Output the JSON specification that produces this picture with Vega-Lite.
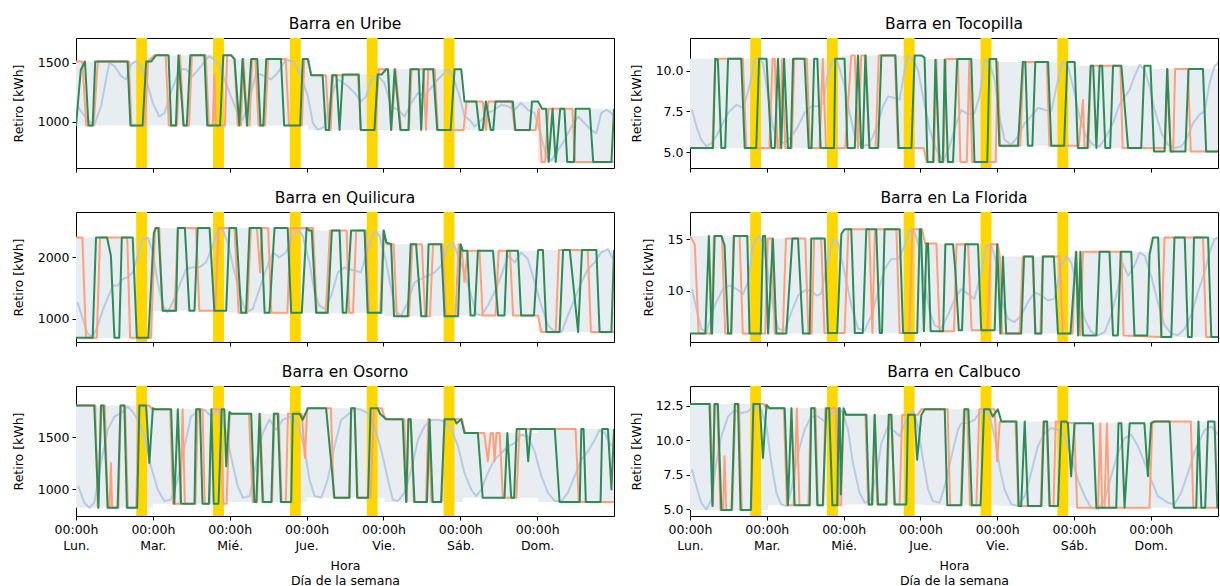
{
  "$schema": "https://vega.github.io/schema/vega-lite/v6.json",
  "background": "white",
  "padding": {"left": 11, "top": 16, "right": 0, "bottom": 0},
  "columns": 2,
  "spacing": {"row": 17, "column": 14},
  "config": {
    "font": "DejaVu Sans",
    "view": {"stroke": "#000", "strokeWidth": 1},
    "axis": {
      "labelFont": "DejaVu Sans", "labelFontSize": 12.5, "labelColor": "#000",
      "titleFont": "DejaVu Sans", "titleFontSize": 12.5, "titleFontWeight": "normal", "titleColor": "#000",
      "tickColor": "#000", "tickSize": 4, "labelPadding": 3, "titlePadding": 12,
      "domain": false, "grid": false
    },
    "axisX": {"labelFlush": false},
    "title": {"font": "DejaVu Sans", "fontSize": 15.5, "fontWeight": "normal", "color": "#000", "offset": 6}
  },
  "datasets": {
    "Y": [
      {"a": 18.8, "b": 22.2}, {"a": 42.8, "b": 46.2}, {"a": 66.8, "b": 70.2}, {"a": 90.8, "b": 94.2}, {"a": 114.8, "b": 118.2}
    ],
    "B": [
      {"p":"U","h":0,"lo":966,"hi":1510},{"p":"U","h":22.5,"lo":966,"hi":1563},{"p":"U","h":47,"lo":966,"hi":1530},{"p":"U","h":72.4,"lo":929,"hi":1400},{"p":"U","h":94,"lo":929,"hi":1443},{"p":"U","h":120.3,"lo":929,"hi":1171},{"p":"U","h":144.3,"lo":657,"hi":1109},{"p":"U","h":168,"lo":657,"hi":1109},
      {"p":"Q","h":0,"lo":692,"hi":2324},{"p":"Q","h":24,"lo":1130,"hi":2481},{"p":"Q","h":47.5,"lo":1097,"hi":2481},{"p":"Q","h":72,"lo":1097,"hi":2438},{"p":"Q","h":96.3,"lo":1043,"hi":2216},{"p":"Q","h":120,"lo":1054,"hi":2108},{"p":"Q","h":144.3,"lo":784,"hi":2119},{"p":"Q","h":168,"lo":784,"hi":2119},
      {"p":"O","h":0,"lo":826,"hi":1801},{"p":"O","h":24,"lo":864,"hi":1766},{"p":"O","h":47.5,"lo":880,"hi":1722},{"p":"O","h":72,"lo":921,"hi":1775},{"p":"O","h":96.3,"lo":880,"hi":1671},{"p":"O","h":120.8,"lo":921,"hi":1538},{"p":"O","h":144.3,"lo":880,"hi":1576},{"p":"O","h":168,"lo":880,"hi":1576},
      {"p":"T","h":0,"lo":5.25,"hi":10.74},{"p":"T","h":47.5,"lo":5.25,"hi":10.94},{"p":"T","h":73.3,"lo":4.39,"hi":10.72},{"p":"T","h":96.2,"lo":5.39,"hi":10.53},{"p":"T","h":121,"lo":5.25,"hi":10.31},{"p":"T","h":143.9,"lo":5.04,"hi":10.1},{"p":"T","h":168,"lo":5.04,"hi":10.1},
      {"p":"F","h":0,"lo":5.87,"hi":15.32},{"p":"F","h":23.6,"lo":5.87,"hi":15.06},{"p":"F","h":47.3,"lo":5.93,"hi":15.96},{"p":"F","h":72.5,"lo":6.1,"hi":14.55},{"p":"F","h":96.2,"lo":5.87,"hi":13.33},{"p":"F","h":120.7,"lo":5.7,"hi":13.78},{"p":"F","h":143.6,"lo":5.55,"hi":15.16},{"p":"F","h":168,"lo":5.55,"hi":15.16},
      {"p":"C","h":0,"lo":4.94,"hi":12.62},{"p":"C","h":24.4,"lo":5.28,"hi":12.31},{"p":"C","h":48.3,"lo":5.35,"hi":11.83},{"p":"C","h":72.8,"lo":5.28,"hi":12.24},{"p":"C","h":96.2,"lo":5.23,"hi":11.35},{"p":"C","h":119.1,"lo":5.11,"hi":11.23},{"p":"C","h":143.1,"lo":5.11,"hi":11.35},{"p":"C","h":168,"lo":5.11,"hi":11.35}
    ],
    "L": [
      {"k":"Ub","h":0.5,"v":1130},{"k":"Ub","h":1.6,"v":1086},{"k":"Ub","h":3.7,"v":1010},{"k":"Ub","h":5.7,"v":971},{"k":"Ub","h":7.8,"v":1130},{"k":"Ub","h":10.4,"v":1500},{"k":"Ub","h":12,"v":1471},{"k":"Ub","h":14.1,"v":1386},{"k":"Ub","h":15.6,"v":1357},{"k":"Ub","h":17.2,"v":1486},{"k":"Ub","h":18.75,"v":1514},{"k":"Ub","h":20.3,"v":1471},{"k":"Ub","h":21.9,"v":1357},{"k":"Ub","h":24,"v":1157},{"k":"Ub","h":26,"v":1043},{"k":"Ub","h":27.6,"v":1071},{"k":"Ub","h":29.7,"v":1250},{"k":"Ub","h":32.3,"v":1443},{"k":"Ub","h":34.4,"v":1443},{"k":"Ub","h":36.5,"v":1386},{"k":"Ub","h":39,"v":1471},{"k":"Ub","h":41.7,"v":1557},{"k":"Ub","h":44.3,"v":1500},{"k":"Ub","h":46.4,"v":1357},{"k":"Ub","h":48.4,"v":1214},{"k":"Ub","h":50.5,"v":1071},{"k":"Ub","h":52.1,"v":1014},{"k":"Ub","h":54.2,"v":1186},{"k":"Ub","h":56.25,"v":1414},{"k":"Ub","h":58.9,"v":1386},{"k":"Ub","h":60.9,"v":1357},{"k":"Ub","h":63,"v":1414},{"k":"Ub","h":65.6,"v":1529},{"k":"Ub","h":68.2,"v":1500},{"k":"Ub","h":70.3,"v":1386},{"k":"Ub","h":72.4,"v":1214},{"k":"Ub","h":74,"v":986},{"k":"Ub","h":75.5,"v":929},{"k":"Ub","h":77.6,"v":957},{"k":"Ub","h":79.7,"v":1214},{"k":"Ub","h":81.8,"v":1357},{"k":"Ub","h":84.9,"v":1300},{"k":"Ub","h":87,"v":1243},{"k":"Ub","h":89,"v":1171},{"k":"Ub","h":90.6,"v":1214},{"k":"Ub","h":92.2,"v":1357},{"k":"Ub","h":94.3,"v":1386},{"k":"Ub","h":96.3,"v":1329},{"k":"Ub","h":98.4,"v":1129},{"k":"Ub","h":100.5,"v":1100},{"k":"Ub","h":102.6,"v":1043},{"k":"Ub","h":104.7,"v":1157},{"k":"Ub","h":106.8,"v":1243},{"k":"Ub","h":108.8,"v":1214},{"k":"Ub","h":110.4,"v":1271},{"k":"Ub","h":113,"v":1357},{"k":"Ub","h":115.1,"v":1414},{"k":"Ub","h":116.1,"v":1443},{"k":"Ub","h":117.7,"v":1386},{"k":"Ub","h":119.8,"v":1214},{"k":"Ub","h":121.3,"v":1043},{"k":"Ub","h":122.9,"v":1014},{"k":"Ub","h":124.5,"v":957},{"k":"Ub","h":126.6,"v":1014},{"k":"Ub","h":128.6,"v":1071},{"k":"Ub","h":130.7,"v":1100},{"k":"Ub","h":132.8,"v":1143},{"k":"Ub","h":134.9,"v":1129},{"k":"Ub","h":137,"v":1100},{"k":"Ub","h":139,"v":1157},{"k":"Ub","h":141.1,"v":1100},{"k":"Ub","h":143.2,"v":1071},{"k":"Ub","h":145.3,"v":871},{"k":"Ub","h":146.9,"v":700},{"k":"Ub","h":148.4,"v":671},{"k":"Ub","h":150.5,"v":757},{"k":"Ub","h":152.6,"v":843},{"k":"Ub","h":154.7,"v":957},{"k":"Ub","h":156.8,"v":1043},{"k":"Ub","h":158.8,"v":986},{"k":"Ub","h":160.9,"v":929},{"k":"Ub","h":162.5,"v":900},{"k":"Ub","h":164,"v":1071},{"k":"Ub","h":165.6,"v":1100},{"k":"Ub","h":167.2,"v":1071},{"k":"Ub","h":168,"v":1043},
      {"k":"Uo","h":0,"v":1510},{"k":"Uo","h":2,"v":1510},{"k":"Uo","h":3.2,"v":966},{"k":"Uo","h":5.5,"v":966},{"k":"Uo","h":6.8,"v":1510},{"k":"Uo","h":16.5,"v":1510},{"k":"Uo","h":17.3,"v":966},{"k":"Uo","h":21.5,"v":966},{"k":"Uo","h":22.5,"v":1510},{"k":"Uo","h":24.5,"v":1563},{"k":"Uo","h":28,"v":1563},{"k":"Uo","h":29,"v":966},{"k":"Uo","h":31.5,"v":966},{"k":"Uo","h":32.5,"v":1563},{"k":"Uo","h":33.6,"v":966},{"k":"Uo","h":35.3,"v":966},{"k":"Uo","h":36.2,"v":1563},{"k":"Uo","h":40.5,"v":1563},{"k":"Uo","h":41.5,"v":966},{"k":"Uo","h":42.7,"v":966},{"k":"Uo","h":43.2,"v":1400},{"k":"Uo","h":43.7,"v":966},{"k":"Uo","h":46.5,"v":966},{"k":"Uo","h":47.2,"v":1563},{"k":"Uo","h":48.5,"v":1563},{"k":"Uo","h":49.5,"v":1530},{"k":"Uo","h":50.5,"v":966},{"k":"Uo","h":51.5,"v":966},{"k":"Uo","h":52.3,"v":1530},{"k":"Uo","h":53.5,"v":966},{"k":"Uo","h":54.2,"v":966},{"k":"Uo","h":55,"v":1530},{"k":"Uo","h":56,"v":1530},{"k":"Uo","h":57,"v":966},{"k":"Uo","h":59,"v":966},{"k":"Uo","h":60,"v":1530},{"k":"Uo","h":65.5,"v":1530},{"k":"Uo","h":66.5,"v":966},{"k":"Uo","h":70.5,"v":966},{"k":"Uo","h":71.3,"v":1530},{"k":"Uo","h":72.5,"v":1530},{"k":"Uo","h":73.5,"v":1394},{"k":"Uo","h":78,"v":1394},{"k":"Uo","h":79,"v":929},{"k":"Uo","h":79.5,"v":929},{"k":"Uo","h":80.3,"v":1394},{"k":"Uo","h":88,"v":1394},{"k":"Uo","h":89,"v":929},{"k":"Uo","h":93.5,"v":929},{"k":"Uo","h":94.5,"v":1443},{"k":"Uo","h":97.5,"v":1443},{"k":"Uo","h":98.5,"v":929},{"k":"Uo","h":99.8,"v":1443},{"k":"Uo","h":101.5,"v":929},{"k":"Uo","h":104,"v":929},{"k":"Uo","h":104.8,"v":1443},{"k":"Uo","h":108.5,"v":1443},{"k":"Uo","h":109.3,"v":929},{"k":"Uo","h":110,"v":1443},{"k":"Uo","h":112,"v":1443},{"k":"Uo","h":113,"v":929},{"k":"Uo","h":121,"v":929},{"k":"Uo","h":122,"v":1171},{"k":"Uo","h":127,"v":1171},{"k":"Uo","h":128,"v":929},{"k":"Uo","h":128.8,"v":1171},{"k":"Uo","h":136,"v":1171},{"k":"Uo","h":137,"v":929},{"k":"Uo","h":143.5,"v":929},{"k":"Uo","h":144.5,"v":1109},{"k":"Uo","h":145.4,"v":657},{"k":"Uo","h":146.5,"v":657},{"k":"Uo","h":147.5,"v":1109},{"k":"Uo","h":155,"v":1109},{"k":"Uo","h":155.8,"v":657},{"k":"Uo","h":168,"v":657},
      {"k":"Ug","h":0,"v":966},{"k":"Ug","h":1.5,"v":1440},{"k":"Ug","h":2.8,"v":1510},{"k":"Ug","h":3.9,"v":966},{"k":"Ug","h":5.2,"v":966},{"k":"Ug","h":6,"v":1510},{"k":"Ug","h":16.1,"v":1510},{"k":"Ug","h":17,"v":966},{"k":"Ug","h":20.8,"v":966},{"k":"Ug","h":21.9,"v":1510},{"k":"Ug","h":23.5,"v":1510},{"k":"Ug","h":25,"v":1563},{"k":"Ug","h":28.9,"v":1563},{"k":"Ug","h":29.7,"v":966},{"k":"Ug","h":31.2,"v":966},{"k":"Ug","h":32,"v":1563},{"k":"Ug","h":33.6,"v":966},{"k":"Ug","h":34.6,"v":966},{"k":"Ug","h":35.7,"v":1563},{"k":"Ug","h":40.1,"v":1563},{"k":"Ug","h":41,"v":966},{"k":"Ug","h":45,"v":966},{"k":"Ug","h":46,"v":1563},{"k":"Ug","h":48.4,"v":1563},{"k":"Ug","h":49.5,"v":1530},{"k":"Ug","h":51,"v":966},{"k":"Ug","h":52,"v":1530},{"k":"Ug","h":53.4,"v":966},{"k":"Ug","h":54.7,"v":1530},{"k":"Ug","h":56.6,"v":1530},{"k":"Ug","h":57.6,"v":966},{"k":"Ug","h":58.5,"v":966},{"k":"Ug","h":59.4,"v":1530},{"k":"Ug","h":64,"v":1530},{"k":"Ug","h":65,"v":966},{"k":"Ug","h":70,"v":966},{"k":"Ug","h":70.8,"v":1530},{"k":"Ug","h":72.4,"v":1530},{"k":"Ug","h":73.4,"v":1394},{"k":"Ug","h":77,"v":1394},{"k":"Ug","h":78,"v":929},{"k":"Ug","h":79,"v":929},{"k":"Ug","h":80,"v":1394},{"k":"Ug","h":81.3,"v":1394},{"k":"Ug","h":82.3,"v":929},{"k":"Ug","h":83.3,"v":1400},{"k":"Ug","h":88.3,"v":1400},{"k":"Ug","h":88.9,"v":929},{"k":"Ug","h":93.2,"v":929},{"k":"Ug","h":94.2,"v":1400},{"k":"Ug","h":95.5,"v":1400},{"k":"Ug","h":96.8,"v":1443},{"k":"Ug","h":97.4,"v":1443},{"k":"Ug","h":98.4,"v":929},{"k":"Ug","h":99.5,"v":1443},{"k":"Ug","h":101.3,"v":929},{"k":"Ug","h":103.8,"v":929},{"k":"Ug","h":104.4,"v":1443},{"k":"Ug","h":107,"v":1443},{"k":"Ug","h":107.8,"v":929},{"k":"Ug","h":108.6,"v":1443},{"k":"Ug","h":111.5,"v":1443},{"k":"Ug","h":112.8,"v":929},{"k":"Ug","h":117,"v":929},{"k":"Ug","h":118.2,"v":1443},{"k":"Ug","h":120.3,"v":1443},{"k":"Ug","h":121.3,"v":1171},{"k":"Ug","h":125,"v":1171},{"k":"Ug","h":126,"v":929},{"k":"Ug","h":127,"v":929},{"k":"Ug","h":128,"v":1171},{"k":"Ug","h":129.5,"v":929},{"k":"Ug","h":130.3,"v":929},{"k":"Ug","h":131,"v":1171},{"k":"Ug","h":136.4,"v":1171},{"k":"Ug","h":137.2,"v":929},{"k":"Ug","h":141.7,"v":929},{"k":"Ug","h":142.4,"v":1171},{"k":"Ug","h":144.3,"v":1171},{"k":"Ug","h":145.5,"v":1109},{"k":"Ug","h":146.8,"v":1109},{"k":"Ug","h":147.6,"v":657},{"k":"Ug","h":148.8,"v":1109},{"k":"Ug","h":149.8,"v":657},{"k":"Ug","h":151.2,"v":1109},{"k":"Ug","h":152.5,"v":1109},{"k":"Ug","h":153.4,"v":657},{"k":"Ug","h":155.5,"v":657},{"k":"Ug","h":156,"v":1109},{"k":"Ug","h":160.4,"v":1109},{"k":"Ug","h":161.5,"v":657},{"k":"Ug","h":167.2,"v":657},{"k":"Ug","h":168,"v":1109},

      {"k":"Qb","h":0.5,"v":1270},{"k":"Qb","h":2.1,"v":1000},{"k":"Qb","h":3.6,"v":757},{"k":"Qb","h":5.2,"v":703},{"k":"Qb","h":6.8,"v":892},{"k":"Qb","h":8.9,"v":1216},{"k":"Qb","h":11.5,"v":1541},{"k":"Qb","h":13,"v":1541},{"k":"Qb","h":14.6,"v":1649},{"k":"Qb","h":16.1,"v":1676},{"k":"Qb","h":17.7,"v":1757},{"k":"Qb","h":19.3,"v":2027},{"k":"Qb","h":20.8,"v":2297},{"k":"Qb","h":22.4,"v":2324},{"k":"Qb","h":24,"v":2081},{"k":"Qb","h":25.5,"v":1595},{"k":"Qb","h":27.1,"v":1216},{"k":"Qb","h":28.6,"v":1108},{"k":"Qb","h":30.2,"v":1270},{"k":"Qb","h":32.3,"v":1541},{"k":"Qb","h":34.4,"v":1811},{"k":"Qb","h":36.5,"v":1838},{"k":"Qb","h":38.5,"v":1838},{"k":"Qb","h":40.6,"v":1919},{"k":"Qb","h":42.7,"v":2189},{"k":"Qb","h":44.3,"v":2459},{"k":"Qb","h":45.8,"v":2459},{"k":"Qb","h":47.4,"v":2243},{"k":"Qb","h":49.5,"v":1757},{"k":"Qb","h":51.6,"v":1324},{"k":"Qb","h":53.1,"v":1108},{"k":"Qb","h":55.2,"v":1162},{"k":"Qb","h":57.3,"v":1486},{"k":"Qb","h":59.4,"v":1811},{"k":"Qb","h":61.5,"v":2081},{"k":"Qb","h":63.5,"v":2000},{"k":"Qb","h":65.6,"v":2081},{"k":"Qb","h":67.7,"v":2351},{"k":"Qb","h":69.3,"v":2459},{"k":"Qb","h":70.8,"v":2351},{"k":"Qb","h":72.9,"v":1919},{"k":"Qb","h":74.5,"v":1432},{"k":"Qb","h":76,"v":1216},{"k":"Qb","h":77.6,"v":1162},{"k":"Qb","h":79.7,"v":1378},{"k":"Qb","h":81.8,"v":1757},{"k":"Qb","h":83.9,"v":1838},{"k":"Qb","h":84.9,"v":1811},{"k":"Qb","h":87,"v":1784},{"k":"Qb","h":89,"v":1757},{"k":"Qb","h":91.1,"v":2135},{"k":"Qb","h":93.2,"v":2432},{"k":"Qb","h":94.8,"v":2351},{"k":"Qb","h":96.9,"v":1919},{"k":"Qb","h":98.4,"v":1486},{"k":"Qb","h":100,"v":1108},{"k":"Qb","h":101.6,"v":1054},{"k":"Qb","h":103.6,"v":1270},{"k":"Qb","h":105.7,"v":1595},{"k":"Qb","h":107.8,"v":1649},{"k":"Qb","h":109.9,"v":1703},{"k":"Qb","h":112,"v":1757},{"k":"Qb","h":114,"v":1865},{"k":"Qb","h":116.1,"v":2189},{"k":"Qb","h":117.7,"v":2243},{"k":"Qb","h":119.3,"v":2027},{"k":"Qb","h":121.3,"v":1757},{"k":"Qb","h":123.4,"v":1378},{"k":"Qb","h":125,"v":1081},{"k":"Qb","h":126.6,"v":1054},{"k":"Qb","h":128.6,"v":1216},{"k":"Qb","h":130.7,"v":1432},{"k":"Qb","h":132.8,"v":1703},{"k":"Qb","h":134.9,"v":2027},{"k":"Qb","h":137,"v":1919},{"k":"Qb","h":139,"v":2081},{"k":"Qb","h":141.1,"v":1973},{"k":"Qb","h":143.2,"v":1595},{"k":"Qb","h":145.3,"v":1216},{"k":"Qb","h":147.4,"v":892},{"k":"Qb","h":149.5,"v":784},{"k":"Qb","h":151.6,"v":784},{"k":"Qb","h":153.6,"v":1054},{"k":"Qb","h":155.7,"v":1324},{"k":"Qb","h":157.8,"v":1595},{"k":"Qb","h":159.9,"v":1811},{"k":"Qb","h":162,"v":1919},{"k":"Qb","h":164,"v":2081},{"k":"Qb","h":166.1,"v":2135},{"k":"Qb","h":167.7,"v":1973},
      {"k":"Qo","h":0,"v":2324},{"k":"Qo","h":2,"v":2324},{"k":"Qo","h":3.1,"v":692},{"k":"Qo","h":6.5,"v":692},{"k":"Qo","h":7.5,"v":2324},{"k":"Qo","h":16,"v":2324},{"k":"Qo","h":16.9,"v":692},{"k":"Qo","h":23.4,"v":692},{"k":"Qo","h":24.7,"v":2481},{"k":"Qo","h":26,"v":2481},{"k":"Qo","h":27,"v":1130},{"k":"Qo","h":30.8,"v":1130},{"k":"Qo","h":31.8,"v":2481},{"k":"Qo","h":37.5,"v":2481},{"k":"Qo","h":38.5,"v":1130},{"k":"Qo","h":43.5,"v":1130},{"k":"Qo","h":44.5,"v":2481},{"k":"Qo","h":49.5,"v":2481},{"k":"Qo","h":50.8,"v":1097},{"k":"Qo","h":53.5,"v":1097},{"k":"Qo","h":54.6,"v":2481},{"k":"Qo","h":56.5,"v":2481},{"k":"Qo","h":57.5,"v":1750},{"k":"Qo","h":58,"v":2481},{"k":"Qo","h":60,"v":2481},{"k":"Qo","h":61,"v":1097},{"k":"Qo","h":66,"v":1097},{"k":"Qo","h":67,"v":2481},{"k":"Qo","h":74,"v":2481},{"k":"Qo","h":75.2,"v":1097},{"k":"Qo","h":78,"v":1097},{"k":"Qo","h":79.3,"v":2438},{"k":"Qo","h":84.5,"v":2438},{"k":"Qo","h":85.3,"v":1097},{"k":"Qo","h":86.5,"v":1097},{"k":"Qo","h":87.5,"v":2438},{"k":"Qo","h":90.5,"v":2438},{"k":"Qo","h":91.5,"v":1097},{"k":"Qo","h":95,"v":1097},{"k":"Qo","h":96,"v":2438},{"k":"Qo","h":97,"v":2216},{"k":"Qo","h":99.2,"v":2216},{"k":"Qo","h":100.2,"v":1043},{"k":"Qo","h":104,"v":1043},{"k":"Qo","h":105,"v":2216},{"k":"Qo","h":108,"v":2216},{"k":"Qo","h":109,"v":1043},{"k":"Qo","h":110.5,"v":1043},{"k":"Qo","h":111.5,"v":2216},{"k":"Qo","h":114.5,"v":2216},{"k":"Qo","h":115.5,"v":1043},{"k":"Qo","h":118.5,"v":1043},{"k":"Qo","h":119.5,"v":2216},{"k":"Qo","h":120.5,"v":2108},{"k":"Qo","h":121.3,"v":1600},{"k":"Qo","h":122.3,"v":2108},{"k":"Qo","h":126,"v":2108},{"k":"Qo","h":127,"v":1054},{"k":"Qo","h":131,"v":1054},{"k":"Qo","h":132,"v":2108},{"k":"Qo","h":135.5,"v":2108},{"k":"Qo","h":136.5,"v":1054},{"k":"Qo","h":144.3,"v":1054},{"k":"Qo","h":145.3,"v":784},{"k":"Qo","h":149.8,"v":784},{"k":"Qo","h":150.8,"v":2119},{"k":"Qo","h":159.8,"v":2119},{"k":"Qo","h":160.8,"v":784},{"k":"Qo","h":168,"v":784},
      {"k":"Qg","h":0,"v":692},{"k":"Qg","h":5.2,"v":692},{"k":"Qg","h":6.25,"v":2324},{"k":"Qg","h":9.7,"v":2324},{"k":"Qg","h":10.9,"v":2027},{"k":"Qg","h":12,"v":692},{"k":"Qg","h":13.5,"v":692},{"k":"Qg","h":14.3,"v":2324},{"k":"Qg","h":17.7,"v":2324},{"k":"Qg","h":19,"v":692},{"k":"Qg","h":22.6,"v":692},{"k":"Qg","h":24.3,"v":2400},{"k":"Qg","h":25,"v":2481},{"k":"Qg","h":25.7,"v":2481},{"k":"Qg","h":27.1,"v":1130},{"k":"Qg","h":31.25,"v":1130},{"k":"Qg","h":31.8,"v":2481},{"k":"Qg","h":34,"v":2481},{"k":"Qg","h":35.4,"v":1130},{"k":"Qg","h":37,"v":1130},{"k":"Qg","h":38,"v":2481},{"k":"Qg","h":41.7,"v":2481},{"k":"Qg","h":43.2,"v":1130},{"k":"Qg","h":46.9,"v":1130},{"k":"Qg","h":47.9,"v":2481},{"k":"Qg","h":50,"v":2481},{"k":"Qg","h":51.6,"v":1097},{"k":"Qg","h":53.1,"v":1097},{"k":"Qg","h":54.2,"v":2481},{"k":"Qg","h":57.8,"v":2481},{"k":"Qg","h":58.9,"v":1097},{"k":"Qg","h":60.4,"v":1097},{"k":"Qg","h":62,"v":2481},{"k":"Qg","h":66.1,"v":2481},{"k":"Qg","h":67.2,"v":1097},{"k":"Qg","h":70.5,"v":1097},{"k":"Qg","h":72,"v":2481},{"k":"Qg","h":72.8,"v":2438},{"k":"Qg","h":73.6,"v":2438},{"k":"Qg","h":75,"v":1097},{"k":"Qg","h":78.6,"v":1097},{"k":"Qg","h":79.9,"v":2438},{"k":"Qg","h":82.3,"v":2438},{"k":"Qg","h":83.3,"v":1097},{"k":"Qg","h":84.4,"v":1097},{"k":"Qg","h":85.9,"v":2438},{"k":"Qg","h":90.1,"v":2438},{"k":"Qg","h":91.1,"v":1097},{"k":"Qg","h":95.3,"v":1097},{"k":"Qg","h":96.1,"v":2438},{"k":"Qg","h":96.9,"v":2243},{"k":"Qg","h":98.4,"v":2216},{"k":"Qg","h":99.3,"v":1043},{"k":"Qg","h":103.6,"v":1043},{"k":"Qg","h":104.5,"v":2216},{"k":"Qg","h":106.2,"v":2216},{"k":"Qg","h":107.8,"v":1043},{"k":"Qg","h":109.4,"v":1043},{"k":"Qg","h":110.1,"v":2216},{"k":"Qg","h":114,"v":2216},{"k":"Qg","h":115.1,"v":1043},{"k":"Qg","h":119.3,"v":1043},{"k":"Qg","h":120.1,"v":2216},{"k":"Qg","h":120.8,"v":2108},{"k":"Qg","h":122.2,"v":2108},{"k":"Qg","h":123.2,"v":1054},{"k":"Qg","h":124.5,"v":1054},{"k":"Qg","h":125.5,"v":2108},{"k":"Qg","h":130.2,"v":2108},{"k":"Qg","h":131.8,"v":1054},{"k":"Qg","h":133.8,"v":1054},{"k":"Qg","h":134.6,"v":2108},{"k":"Qg","h":138,"v":2108},{"k":"Qg","h":139,"v":1054},{"k":"Qg","h":143,"v":1054},{"k":"Qg","h":144.3,"v":2119},{"k":"Qg","h":145.8,"v":2119},{"k":"Qg","h":146.9,"v":784},{"k":"Qg","h":151,"v":784},{"k":"Qg","h":152.1,"v":2119},{"k":"Qg","h":154.2,"v":2119},{"k":"Qg","h":156.8,"v":784},{"k":"Qg","h":158,"v":2119},{"k":"Qg","h":162.5,"v":2119},{"k":"Qg","h":163.5,"v":784},{"k":"Qg","h":167.2,"v":784},{"k":"Qg","h":168,"v":2119},

      {"k":"Ob","h":0.7,"v":1032},{"k":"Ob","h":2.6,"v":873},{"k":"Ob","h":4.2,"v":826},{"k":"Ob","h":5.7,"v":873},{"k":"Ob","h":7.8,"v":1253},{"k":"Ob","h":9.9,"v":1570},{"k":"Ob","h":12,"v":1696},{"k":"Ob","h":14.1,"v":1728},{"k":"Ob","h":16.1,"v":1791},{"k":"Ob","h":17.7,"v":1744},{"k":"Ob","h":19.8,"v":1633},{"k":"Ob","h":21.4,"v":1506},{"k":"Ob","h":23.4,"v":1221},{"k":"Ob","h":25.5,"v":1000},{"k":"Ob","h":27.6,"v":889},{"k":"Ob","h":29.7,"v":905},{"k":"Ob","h":31.8,"v":1095},{"k":"Ob","h":33.9,"v":1411},{"k":"Ob","h":35.9,"v":1696},{"k":"Ob","h":38,"v":1744},{"k":"Ob","h":40.1,"v":1760},{"k":"Ob","h":42.2,"v":1696},{"k":"Ob","h":44.3,"v":1760},{"k":"Ob","h":46.4,"v":1601},{"k":"Ob","h":48.4,"v":1316},{"k":"Ob","h":50.5,"v":1032},{"k":"Ob","h":52.1,"v":921},{"k":"Ob","h":54.2,"v":937},{"k":"Ob","h":56.25,"v":1253},{"k":"Ob","h":58.3,"v":1538},{"k":"Ob","h":60.4,"v":1665},{"k":"Ob","h":62.5,"v":1570},{"k":"Ob","h":64.6,"v":1665},{"k":"Ob","h":67.2,"v":1696},{"k":"Ob","h":69.3,"v":1633},{"k":"Ob","h":71.4,"v":1380},{"k":"Ob","h":72.9,"v":1095},{"k":"Ob","h":74.5,"v":937},{"k":"Ob","h":76.6,"v":921},{"k":"Ob","h":78.6,"v":1095},{"k":"Ob","h":80.7,"v":1411},{"k":"Ob","h":82.8,"v":1665},{"k":"Ob","h":84.9,"v":1712},{"k":"Ob","h":87,"v":1775},{"k":"Ob","h":89,"v":1760},{"k":"Ob","h":91.1,"v":1728},{"k":"Ob","h":93.2,"v":1601},{"k":"Ob","h":95.3,"v":1380},{"k":"Ob","h":97.4,"v":1095},{"k":"Ob","h":98.9,"v":905},{"k":"Ob","h":100.5,"v":889},{"k":"Ob","h":102.6,"v":968},{"k":"Ob","h":104.7,"v":1190},{"k":"Ob","h":106.8,"v":1475},{"k":"Ob","h":108.8,"v":1601},{"k":"Ob","h":110.9,"v":1665},{"k":"Ob","h":113,"v":1665},{"k":"Ob","h":115.1,"v":1649},{"k":"Ob","h":117.2,"v":1570},{"k":"Ob","h":119.3,"v":1411},{"k":"Ob","h":121.3,"v":1158},{"k":"Ob","h":123.4,"v":1000},{"k":"Ob","h":125,"v":937},{"k":"Ob","h":126.6,"v":1000},{"k":"Ob","h":128.6,"v":1158},{"k":"Ob","h":130.7,"v":1285},{"k":"Ob","h":132.8,"v":1348},{"k":"Ob","h":134.9,"v":1411},{"k":"Ob","h":137,"v":1443},{"k":"Ob","h":139,"v":1522},{"k":"Ob","h":141.1,"v":1506},{"k":"Ob","h":143.2,"v":1364},{"k":"Ob","h":145.3,"v":1127},{"k":"Ob","h":147.4,"v":968},{"k":"Ob","h":149.5,"v":889},{"k":"Ob","h":151.6,"v":889},{"k":"Ob","h":153.6,"v":968},{"k":"Ob","h":155.7,"v":1127},{"k":"Ob","h":157.8,"v":1285},{"k":"Ob","h":159.9,"v":1364},{"k":"Ob","h":162,"v":1475},{"k":"Ob","h":163.5,"v":1570},{"k":"Ob","h":165.1,"v":1538},{"k":"Ob","h":167.2,"v":1411},
      {"k":"Oo","h":0,"v":1801},{"k":"Oo","h":6,"v":1801},{"k":"Oo","h":6.8,"v":826},{"k":"Oo","h":8,"v":1801},{"k":"Oo","h":9,"v":1801},{"k":"Oo","h":9.9,"v":826},{"k":"Oo","h":10.5,"v":826},{"k":"Oo","h":10.9,"v":1253},{"k":"Oo","h":11.3,"v":826},{"k":"Oo","h":13.2,"v":826},{"k":"Oo","h":14,"v":1801},{"k":"Oo","h":15.3,"v":1801},{"k":"Oo","h":16.2,"v":826},{"k":"Oo","h":18.8,"v":826},{"k":"Oo","h":19.6,"v":1801},{"k":"Oo","h":22.8,"v":1801},{"k":"Oo","h":23.8,"v":1766},{"k":"Oo","h":29.4,"v":1766},{"k":"Oo","h":30.3,"v":864},{"k":"Oo","h":32.6,"v":864},{"k":"Oo","h":33.3,"v":1766},{"k":"Oo","h":34,"v":864},{"k":"Oo","h":37.3,"v":864},{"k":"Oo","h":38,"v":1766},{"k":"Oo","h":39.5,"v":1766},{"k":"Oo","h":40.2,"v":864},{"k":"Oo","h":41.7,"v":864},{"k":"Oo","h":42.3,"v":1766},{"k":"Oo","h":45,"v":1766},{"k":"Oo","h":46,"v":864},{"k":"Oo","h":47,"v":864},{"k":"Oo","h":48,"v":1722},{"k":"Oo","h":54,"v":1722},{"k":"Oo","h":55.2,"v":880},{"k":"Oo","h":56.5,"v":880},{"k":"Oo","h":57.5,"v":1722},{"k":"Oo","h":58.5,"v":880},{"k":"Oo","h":61.2,"v":880},{"k":"Oo","h":62,"v":1722},{"k":"Oo","h":63.3,"v":1722},{"k":"Oo","h":64.2,"v":880},{"k":"Oo","h":65.5,"v":880},{"k":"Oo","h":66.2,"v":1722},{"k":"Oo","h":70.5,"v":1722},{"k":"Oo","h":71.5,"v":1300},{"k":"Oo","h":72.2,"v":1775},{"k":"Oo","h":79.6,"v":1775},{"k":"Oo","h":80.5,"v":921},{"k":"Oo","h":85.2,"v":921},{"k":"Oo","h":86,"v":1775},{"k":"Oo","h":87,"v":1775},{"k":"Oo","h":88,"v":921},{"k":"Oo","h":92,"v":921},{"k":"Oo","h":93,"v":1775},{"k":"Oo","h":95.5,"v":1775},{"k":"Oo","h":96.5,"v":1671},{"k":"Oo","h":102.5,"v":1671},{"k":"Oo","h":103.3,"v":880},{"k":"Oo","h":103.8,"v":1671},{"k":"Oo","h":104.5,"v":1671},{"k":"Oo","h":105.5,"v":880},{"k":"Oo","h":109.3,"v":880},{"k":"Oo","h":110,"v":1671},{"k":"Oo","h":111,"v":880},{"k":"Oo","h":114.2,"v":880},{"k":"Oo","h":115,"v":1671},{"k":"Oo","h":120.5,"v":1671},{"k":"Oo","h":121.5,"v":1538},{"k":"Oo","h":127.5,"v":1538},{"k":"Oo","h":128.6,"v":1269},{"k":"Oo","h":129.5,"v":1538},{"k":"Oo","h":130.2,"v":1538},{"k":"Oo","h":130.7,"v":1269},{"k":"Oo","h":131.3,"v":1538},{"k":"Oo","h":132.3,"v":1538},{"k":"Oo","h":133.3,"v":921},{"k":"Oo","h":137.5,"v":921},{"k":"Oo","h":138.5,"v":1576},{"k":"Oo","h":156,"v":1576},{"k":"Oo","h":157,"v":880},{"k":"Oo","h":168,"v":880},
      {"k":"Og","h":0,"v":1801},{"k":"Og","h":5.7,"v":1801},{"k":"Og","h":7,"v":826},{"k":"Og","h":7.8,"v":1801},{"k":"Og","h":8.6,"v":1801},{"k":"Og","h":9.9,"v":826},{"k":"Og","h":13,"v":826},{"k":"Og","h":13.9,"v":1801},{"k":"Og","h":15.1,"v":1801},{"k":"Og","h":15.9,"v":826},{"k":"Og","h":19.1,"v":826},{"k":"Og","h":19.8,"v":1801},{"k":"Og","h":21.9,"v":1801},{"k":"Og","h":22.9,"v":1253},{"k":"Og","h":24,"v":1775},{"k":"Og","h":24.5,"v":1766},{"k":"Og","h":29.7,"v":1766},{"k":"Og","h":30.7,"v":864},{"k":"Og","h":31.8,"v":1766},{"k":"Og","h":32.8,"v":864},{"k":"Og","h":37,"v":864},{"k":"Og","h":37.5,"v":1766},{"k":"Og","h":38.7,"v":1766},{"k":"Og","h":39.5,"v":864},{"k":"Og","h":41.5,"v":864},{"k":"Og","h":42.3,"v":1766},{"k":"Og","h":43,"v":864},{"k":"Og","h":44.5,"v":864},{"k":"Og","h":45.5,"v":1766},{"k":"Og","h":46.3,"v":1766},{"k":"Og","h":46.9,"v":1221},{"k":"Og","h":47.9,"v":1740},{"k":"Og","h":48.5,"v":1722},{"k":"Og","h":54.7,"v":1722},{"k":"Og","h":55.7,"v":880},{"k":"Og","h":56.3,"v":880},{"k":"Og","h":57.3,"v":1722},{"k":"Og","h":58.3,"v":880},{"k":"Og","h":61,"v":880},{"k":"Og","h":61.8,"v":1722},{"k":"Og","h":63,"v":1722},{"k":"Og","h":64,"v":880},{"k":"Og","h":67.2,"v":880},{"k":"Og","h":67.7,"v":1722},{"k":"Og","h":69.8,"v":1722},{"k":"Og","h":70.8,"v":1665},{"k":"Og","h":72.4,"v":1775},{"k":"Og","h":78.1,"v":1775},{"k":"Og","h":80.7,"v":921},{"k":"Og","h":85.4,"v":921},{"k":"Og","h":85.9,"v":1775},{"k":"Og","h":87,"v":1775},{"k":"Og","h":87.8,"v":921},{"k":"Og","h":91.2,"v":921},{"k":"Og","h":92,"v":1775},{"k":"Og","h":94.2,"v":1775},{"k":"Og","h":95,"v":1720},{"k":"Og","h":96.9,"v":1671},{"k":"Og","h":102,"v":1671},{"k":"Og","h":103.1,"v":880},{"k":"Og","h":103.8,"v":1671},{"k":"Og","h":104.5,"v":1671},{"k":"Og","h":105.7,"v":880},{"k":"Og","h":109.6,"v":880},{"k":"Og","h":110.4,"v":1671},{"k":"Og","h":111.4,"v":880},{"k":"Og","h":114,"v":880},{"k":"Og","h":115.1,"v":1671},{"k":"Og","h":118.2,"v":1671},{"k":"Og","h":118.8,"v":1630},{"k":"Og","h":120.3,"v":1671},{"k":"Og","h":121.3,"v":1538},{"k":"Og","h":125.5,"v":1538},{"k":"Og","h":127,"v":921},{"k":"Og","h":133.8,"v":921},{"k":"Og","h":134.7,"v":1538},{"k":"Og","h":135.9,"v":921},{"k":"Og","h":136.8,"v":921},{"k":"Og","h":137.6,"v":1576},{"k":"Og","h":140.5,"v":1576},{"k":"Og","h":141.2,"v":1269},{"k":"Og","h":142,"v":1576},{"k":"Og","h":149.5,"v":1576},{"k":"Og","h":151,"v":880},{"k":"Og","h":157.3,"v":880},{"k":"Og","h":157.8,"v":1576},{"k":"Og","h":158.5,"v":1576},{"k":"Og","h":159.2,"v":880},{"k":"Og","h":163.8,"v":880},{"k":"Og","h":164.3,"v":1576},{"k":"Og","h":166.1,"v":1576},{"k":"Og","h":167.2,"v":1000},{"k":"Og","h":168,"v":1576},

      {"k":"Tb","h":0.6,"v":7.6},{"k":"Tb","h":2,"v":6.58},{"k":"Tb","h":3.5,"v":5.76},{"k":"Tb","h":5.1,"v":5.35},{"k":"Tb","h":6.7,"v":5.55},{"k":"Tb","h":8.2,"v":5.96},{"k":"Tb","h":9.8,"v":6.58},{"k":"Tb","h":11.9,"v":7.4},{"k":"Tb","h":14.5,"v":7.91},{"k":"Tb","h":16.6,"v":7.71},{"k":"Tb","h":18.6,"v":9.04},{"k":"Tb","h":20.2,"v":10.68},{"k":"Tb","h":21.25,"v":10.78},{"k":"Tb","h":22.8,"v":10.47},{"k":"Tb","h":24.4,"v":8.42},{"k":"Tb","h":25.9,"v":6.58},{"k":"Tb","h":27.5,"v":5.66},{"k":"Tb","h":29.6,"v":5.55},{"k":"Tb","h":31.7,"v":5.96},{"k":"Tb","h":33.75,"v":6.58},{"k":"Tb","h":35.8,"v":7.4},{"k":"Tb","h":37.9,"v":7.81},{"k":"Tb","h":40,"v":7.81},{"k":"Tb","h":41.6,"v":8.01},{"k":"Tb","h":43.1,"v":9.86},{"k":"Tb","h":44.7,"v":10.64},{"k":"Tb","h":46.25,"v":10.47},{"k":"Tb","h":48.3,"v":9.04},{"k":"Tb","h":49.9,"v":7.4},{"k":"Tb","h":51.5,"v":5.96},{"k":"Tb","h":53.5,"v":5.35},{"k":"Tb","h":55.6,"v":5.45},{"k":"Tb","h":57.2,"v":5.96},{"k":"Tb","h":58.75,"v":6.78},{"k":"Tb","h":60.3,"v":7.81},{"k":"Tb","h":61.9,"v":8.42},{"k":"Tb","h":64,"v":8.32},{"k":"Tb","h":65.5,"v":8.22},{"k":"Tb","h":67.1,"v":10.06},{"k":"Tb","h":68.1,"v":10.92},{"k":"Tb","h":69.7,"v":10.68},{"k":"Tb","h":71.25,"v":10.06},{"k":"Tb","h":72.8,"v":8.42},{"k":"Tb","h":74.9,"v":6.37},{"k":"Tb","h":77,"v":5.14},{"k":"Tb","h":79.1,"v":4.43},{"k":"Tb","h":81.1,"v":5.35},{"k":"Tb","h":83.2,"v":6.78},{"k":"Tb","h":84.8,"v":7.6},{"k":"Tb","h":86.9,"v":7.3},{"k":"Tb","h":88.9,"v":7.4},{"k":"Tb","h":90.5,"v":8.42},{"k":"Tb","h":92.1,"v":10.68},{"k":"Tb","h":93.6,"v":10.47},{"k":"Tb","h":95.2,"v":9.45},{"k":"Tb","h":96.7,"v":7.19},{"k":"Tb","h":98.3,"v":5.76},{"k":"Tb","h":100.4,"v":5.45},{"k":"Tb","h":102.5,"v":5.96},{"k":"Tb","h":104.6,"v":6.78},{"k":"Tb","h":106.6,"v":7.19},{"k":"Tb","h":108.7,"v":7.71},{"k":"Tb","h":110.8,"v":7.6},{"k":"Tb","h":112.9,"v":7.5},{"k":"Tb","h":115,"v":9.45},{"k":"Tb","h":116.5,"v":10.57},{"k":"Tb","h":118.1,"v":10.27},{"k":"Tb","h":119.7,"v":9.04},{"k":"Tb","h":121.7,"v":7.19},{"k":"Tb","h":123.8,"v":5.96},{"k":"Tb","h":125.9,"v":5.45},{"k":"Tb","h":128,"v":5.35},{"k":"Tb","h":130.1,"v":5.96},{"k":"Tb","h":132.2,"v":6.78},{"k":"Tb","h":134.2,"v":7.91},{"k":"Tb","h":137.4,"v":8.83},{"k":"Tb","h":138.9,"v":9.65},{"k":"Tb","h":140.5,"v":10.37},{"k":"Tb","h":142,"v":10.06},{"k":"Tb","h":143.6,"v":9.04},{"k":"Tb","h":145.2,"v":7.6},{"k":"Tb","h":147.3,"v":6.17},{"k":"Tb","h":149.4,"v":5.45},{"k":"Tb","h":151.4,"v":5.25},{"k":"Tb","h":153.5,"v":5.35},{"k":"Tb","h":155.1,"v":5.76},{"k":"Tb","h":157.2,"v":6.78},{"k":"Tb","h":159.2,"v":7.3},{"k":"Tb","h":160.8,"v":7.5},{"k":"Tb","h":162.4,"v":9.24},{"k":"Tb","h":163.9,"v":10.27},{"k":"Tb","h":165,"v":10.47},{"k":"Tb","h":168,"v":10.3},
      {"k":"To","h":0,"v":5.25},{"k":"To","h":7,"v":5.25},{"k":"To","h":7.9,"v":10.74},{"k":"To","h":16.5,"v":10.74},{"k":"To","h":17.6,"v":5.25},{"k":"To","h":24.8,"v":5.25},{"k":"To","h":25.8,"v":10.74},{"k":"To","h":26.5,"v":10.74},{"k":"To","h":27.3,"v":5.25},{"k":"To","h":28,"v":5.25},{"k":"To","h":28.8,"v":10.74},{"k":"To","h":29.8,"v":5.25},{"k":"To","h":31.8,"v":5.25},{"k":"To","h":32.6,"v":10.74},{"k":"To","h":36.5,"v":10.74},{"k":"To","h":37.5,"v":5.25},{"k":"To","h":40.5,"v":5.25},{"k":"To","h":41.5,"v":10.74},{"k":"To","h":42.5,"v":5.25},{"k":"To","h":48.5,"v":5.25},{"k":"To","h":50.4,"v":10.94},{"k":"To","h":51.5,"v":10.94},{"k":"To","h":52.5,"v":5.25},{"k":"To","h":53.5,"v":10.94},{"k":"To","h":55,"v":10.94},{"k":"To","h":56,"v":5.25},{"k":"To","h":58,"v":5.25},{"k":"To","h":59,"v":10.94},{"k":"To","h":64,"v":10.94},{"k":"To","h":65,"v":5.25},{"k":"To","h":73,"v":5.25},{"k":"To","h":74,"v":4.39},{"k":"To","h":76.2,"v":4.39},{"k":"To","h":77,"v":10.68},{"k":"To","h":77.7,"v":4.39},{"k":"To","h":79.2,"v":4.39},{"k":"To","h":80,"v":10.72},{"k":"To","h":83.7,"v":10.72},{"k":"To","h":84.5,"v":4.39},{"k":"To","h":86.5,"v":4.39},{"k":"To","h":87.3,"v":10.72},{"k":"To","h":88.2,"v":4.39},{"k":"To","h":95.5,"v":4.39},{"k":"To","h":96.2,"v":10.53},{"k":"To","h":96.9,"v":5.39},{"k":"To","h":103.2,"v":5.39},{"k":"To","h":104.2,"v":10.53},{"k":"To","h":111.5,"v":10.53},{"k":"To","h":112.3,"v":5.39},{"k":"To","h":121.5,"v":5.39},{"k":"To","h":122.8,"v":8.2},{"k":"To","h":123.3,"v":5.25},{"k":"To","h":124.5,"v":5.25},{"k":"To","h":125.3,"v":10.31},{"k":"To","h":134.5,"v":10.31},{"k":"To","h":135.2,"v":5.25},{"k":"To","h":148.5,"v":5.25},{"k":"To","h":149.3,"v":10.1},{"k":"To","h":150.2,"v":5.04},{"k":"To","h":151,"v":5.04},{"k":"To","h":151.6,"v":10.1},{"k":"To","h":155.6,"v":10.1},{"k":"To","h":156.5,"v":5.04},{"k":"To","h":168,"v":5.04},
      {"k":"Tg","h":0,"v":5.25},{"k":"Tg","h":7.2,"v":5.25},{"k":"Tg","h":7.9,"v":10.74},{"k":"Tg","h":8.7,"v":10.68},{"k":"Tg","h":9.8,"v":5.25},{"k":"Tg","h":11,"v":5.25},{"k":"Tg","h":11.9,"v":10.74},{"k":"Tg","h":16,"v":10.74},{"k":"Tg","h":17.1,"v":5.25},{"k":"Tg","h":20.7,"v":5.25},{"k":"Tg","h":21.6,"v":10.74},{"k":"Tg","h":23.9,"v":10.74},{"k":"Tg","h":25.4,"v":5.25},{"k":"Tg","h":26.5,"v":5.25},{"k":"Tg","h":27.5,"v":10.74},{"k":"Tg","h":28.5,"v":5.25},{"k":"Tg","h":29.4,"v":10.74},{"k":"Tg","h":30.6,"v":5.25},{"k":"Tg","h":31.5,"v":5.25},{"k":"Tg","h":32.2,"v":10.74},{"k":"Tg","h":35.8,"v":10.74},{"k":"Tg","h":37.1,"v":5.25},{"k":"Tg","h":38,"v":5.25},{"k":"Tg","h":38.8,"v":10.74},{"k":"Tg","h":39.8,"v":10.74},{"k":"Tg","h":40.8,"v":5.25},{"k":"Tg","h":45,"v":5.25},{"k":"Tg","h":45.4,"v":10.74},{"k":"Tg","h":48.3,"v":10.74},{"k":"Tg","h":49.2,"v":5.25},{"k":"Tg","h":51.5,"v":5.25},{"k":"Tg","h":52.5,"v":10.94},{"k":"Tg","h":53.5,"v":5.25},{"k":"Tg","h":54,"v":5.25},{"k":"Tg","h":54.8,"v":10.94},{"k":"Tg","h":56.1,"v":5.25},{"k":"Tg","h":58.8,"v":5.25},{"k":"Tg","h":59.8,"v":10.94},{"k":"Tg","h":64.2,"v":10.94},{"k":"Tg","h":65.2,"v":5.25},{"k":"Tg","h":69.2,"v":5.25},{"k":"Tg","h":70.2,"v":10.94},{"k":"Tg","h":72.3,"v":10.94},{"k":"Tg","h":73.3,"v":10.8},{"k":"Tg","h":74.2,"v":4.39},{"k":"Tg","h":76,"v":4.39},{"k":"Tg","h":76.7,"v":10.68},{"k":"Tg","h":78,"v":4.39},{"k":"Tg","h":79,"v":4.39},{"k":"Tg","h":79.6,"v":10.68},{"k":"Tg","h":80.6,"v":4.39},{"k":"Tg","h":82.2,"v":4.39},{"k":"Tg","h":83.5,"v":10.72},{"k":"Tg","h":87.9,"v":10.72},{"k":"Tg","h":88.9,"v":4.39},{"k":"Tg","h":92.9,"v":4.39},{"k":"Tg","h":93.6,"v":10.72},{"k":"Tg","h":95.7,"v":10.72},{"k":"Tg","h":96.7,"v":5.39},{"k":"Tg","h":102.5,"v":5.39},{"k":"Tg","h":104,"v":10.53},{"k":"Tg","h":104.8,"v":10.53},{"k":"Tg","h":105.6,"v":5.39},{"k":"Tg","h":107,"v":5.39},{"k":"Tg","h":107.9,"v":10.53},{"k":"Tg","h":111.9,"v":10.53},{"k":"Tg","h":112.9,"v":5.39},{"k":"Tg","h":116.9,"v":5.39},{"k":"Tg","h":117.9,"v":10.53},{"k":"Tg","h":120.2,"v":10.53},{"k":"Tg","h":121.2,"v":5.25},{"k":"Tg","h":124.2,"v":5.25},{"k":"Tg","h":125.2,"v":10.31},{"k":"Tg","h":126,"v":10.31},{"k":"Tg","h":127,"v":5.25},{"k":"Tg","h":128,"v":10.31},{"k":"Tg","h":128.8,"v":10.31},{"k":"Tg","h":129.8,"v":5.25},{"k":"Tg","h":131.3,"v":5.25},{"k":"Tg","h":132.2,"v":10.31},{"k":"Tg","h":134.8,"v":10.31},{"k":"Tg","h":136.9,"v":5.25},{"k":"Tg","h":141,"v":5.25},{"k":"Tg","h":142,"v":10.31},{"k":"Tg","h":143.9,"v":10.31},{"k":"Tg","h":145,"v":5.04},{"k":"Tg","h":148.3,"v":5.04},{"k":"Tg","h":149.1,"v":10.1},{"k":"Tg","h":150.2,"v":5.04},{"k":"Tg","h":154.8,"v":5.04},{"k":"Tg","h":155.8,"v":10.1},{"k":"Tg","h":160.3,"v":10.1},{"k":"Tg","h":161.3,"v":5.04},{"k":"Tg","h":168,"v":5.04},

      {"k":"Fb","h":0.6,"v":10.19},{"k":"Fb","h":2,"v":8.27},{"k":"Fb","h":3.5,"v":6.35},{"k":"Fb","h":5.1,"v":6.03},{"k":"Fb","h":6.7,"v":7.63},{"k":"Fb","h":8.2,"v":8.91},{"k":"Fb","h":10.3,"v":10.19},{"k":"Fb","h":12.4,"v":10.51},{"k":"Fb","h":14.5,"v":10.19},{"k":"Fb","h":16.6,"v":9.71},{"k":"Fb","h":18.1,"v":10.83},{"k":"Fb","h":19.7,"v":14.36},{"k":"Fb","h":21.25,"v":15.32},{"k":"Fb","h":22.8,"v":14.68},{"k":"Fb","h":24.4,"v":11.8},{"k":"Fb","h":25.9,"v":8.59},{"k":"Fb","h":27.5,"v":6.35},{"k":"Fb","h":29.6,"v":6.19},{"k":"Fb","h":31.7,"v":7.95},{"k":"Fb","h":33.75,"v":9.55},{"k":"Fb","h":35.8,"v":10.03},{"k":"Fb","h":37.9,"v":10.03},{"k":"Fb","h":39.5,"v":9.55},{"k":"Fb","h":41,"v":9.71},{"k":"Fb","h":43.1,"v":13.08},{"k":"Fb","h":44.7,"v":15},{"k":"Fb","h":46.25,"v":14.68},{"k":"Fb","h":48.3,"v":11.8},{"k":"Fb","h":50.4,"v":8.59},{"k":"Fb","h":52.5,"v":6.35},{"k":"Fb","h":54.6,"v":6.19},{"k":"Fb","h":56.7,"v":7.63},{"k":"Fb","h":58.75,"v":9.87},{"k":"Fb","h":60.8,"v":12.12},{"k":"Fb","h":62.9,"v":13.08},{"k":"Fb","h":65,"v":13.08},{"k":"Fb","h":67.1,"v":14.36},{"k":"Fb","h":68.6,"v":15.9},{"k":"Fb","h":70.2,"v":15.64},{"k":"Fb","h":71.8,"v":14.04},{"k":"Fb","h":73.3,"v":10.83},{"k":"Fb","h":74.9,"v":7.95},{"k":"Fb","h":76.5,"v":6.67},{"k":"Fb","h":78.5,"v":6.35},{"k":"Fb","h":80.6,"v":7.63},{"k":"Fb","h":82.7,"v":9.23},{"k":"Fb","h":84.8,"v":10.19},{"k":"Fb","h":86.9,"v":9.71},{"k":"Fb","h":88.9,"v":9.23},{"k":"Fb","h":91,"v":11.8},{"k":"Fb","h":92.6,"v":14.36},{"k":"Fb","h":94.1,"v":14.52},{"k":"Fb","h":95.7,"v":12.76},{"k":"Fb","h":97.3,"v":9.23},{"k":"Fb","h":99.35,"v":7.31},{"k":"Fb","h":101.4,"v":6.99},{"k":"Fb","h":103.5,"v":7.63},{"k":"Fb","h":105.6,"v":8.91},{"k":"Fb","h":107.7,"v":9.87},{"k":"Fb","h":109.8,"v":9.55},{"k":"Fb","h":111.85,"v":9.07},{"k":"Fb","h":113.9,"v":9.23},{"k":"Fb","h":116,"v":12.44},{"k":"Fb","h":117.6,"v":13.4},{"k":"Fb","h":119.1,"v":12.76},{"k":"Fb","h":121.2,"v":10.19},{"k":"Fb","h":123.3,"v":7.31},{"k":"Fb","h":125.4,"v":6.03},{"k":"Fb","h":127.5,"v":5.71},{"k":"Fb","h":129.6,"v":6.03},{"k":"Fb","h":131.6,"v":7.63},{"k":"Fb","h":133.7,"v":10.19},{"k":"Fb","h":135.3,"v":12.6},{"k":"Fb","h":136.9,"v":11.47},{"k":"Fb","h":138.9,"v":12.44},{"k":"Fb","h":140.5,"v":13.72},{"k":"Fb","h":142.1,"v":13.4},{"k":"Fb","h":144.1,"v":11.47},{"k":"Fb","h":146.2,"v":8.91},{"k":"Fb","h":148.3,"v":6.67},{"k":"Fb","h":150.4,"v":5.87},{"k":"Fb","h":152.5,"v":5.71},{"k":"Fb","h":154.6,"v":6.35},{"k":"Fb","h":156.6,"v":7.63},{"k":"Fb","h":158.7,"v":9.87},{"k":"Fb","h":160.8,"v":11.8},{"k":"Fb","h":162.4,"v":13.72},{"k":"Fb","h":163.9,"v":15},{"k":"Fb","h":165,"v":15.16},{"k":"Fb","h":168,"v":15.1},
      {"k":"Fo","h":0,"v":15.32},{"k":"Fo","h":1.5,"v":14.5},{"k":"Fo","h":2.7,"v":5.87},{"k":"Fo","h":6.5,"v":5.87},{"k":"Fo","h":7.5,"v":15.32},{"k":"Fo","h":10,"v":15.32},{"k":"Fo","h":11,"v":5.87},{"k":"Fo","h":12.8,"v":5.87},{"k":"Fo","h":13.6,"v":15.32},{"k":"Fo","h":15.5,"v":15.32},{"k":"Fo","h":16.5,"v":5.87},{"k":"Fo","h":23.5,"v":5.87},{"k":"Fo","h":24.3,"v":15.06},{"k":"Fo","h":25.5,"v":15.06},{"k":"Fo","h":26.5,"v":5.87},{"k":"Fo","h":29,"v":5.87},{"k":"Fo","h":30,"v":15.06},{"k":"Fo","h":36,"v":15.06},{"k":"Fo","h":37,"v":5.87},{"k":"Fo","h":38,"v":5.87},{"k":"Fo","h":38.8,"v":15.06},{"k":"Fo","h":41,"v":15.06},{"k":"Fo","h":42,"v":5.93},{"k":"Fo","h":48.3,"v":5.93},{"k":"Fo","h":49.5,"v":15.96},{"k":"Fo","h":56,"v":15.96},{"k":"Fo","h":57,"v":5.93},{"k":"Fo","h":57.8,"v":15.96},{"k":"Fo","h":64.5,"v":15.96},{"k":"Fo","h":65.5,"v":5.93},{"k":"Fo","h":68.5,"v":5.93},{"k":"Fo","h":69.5,"v":15.96},{"k":"Fo","h":72.5,"v":15.96},{"k":"Fo","h":73.5,"v":14.58},{"k":"Fo","h":77,"v":14.58},{"k":"Fo","h":78,"v":6.09},{"k":"Fo","h":82.5,"v":6.09},{"k":"Fo","h":83.3,"v":14.52},{"k":"Fo","h":86.9,"v":14.52},{"k":"Fo","h":88,"v":6.19},{"k":"Fo","h":93,"v":6.19},{"k":"Fo","h":94,"v":14.52},{"k":"Fo","h":96.2,"v":14.52},{"k":"Fo","h":96.8,"v":13.33},{"k":"Fo","h":97.5,"v":5.87},{"k":"Fo","h":103,"v":5.87},{"k":"Fo","h":104,"v":13.33},{"k":"Fo","h":107,"v":13.33},{"k":"Fo","h":108,"v":5.87},{"k":"Fo","h":109.5,"v":5.87},{"k":"Fo","h":110.2,"v":13.33},{"k":"Fo","h":115.5,"v":13.33},{"k":"Fo","h":116.5,"v":5.87},{"k":"Fo","h":119.5,"v":5.87},{"k":"Fo","h":120.5,"v":13.78},{"k":"Fo","h":122,"v":5.7},{"k":"Fo","h":122.8,"v":13.78},{"k":"Fo","h":134.8,"v":13.78},{"k":"Fo","h":135.5,"v":5.7},{"k":"Fo","h":147.3,"v":5.55},{"k":"Fo","h":148.3,"v":15.16},{"k":"Fo","h":160.3,"v":15.16},{"k":"Fo","h":161.3,"v":5.55},{"k":"Fo","h":168,"v":5.55},
      {"k":"Fg","h":0,"v":5.87},{"k":"Fg","h":4.8,"v":5.87},{"k":"Fg","h":5.9,"v":15.32},{"k":"Fg","h":6.7,"v":5.87},{"k":"Fg","h":6.9,"v":5.87},{"k":"Fg","h":7.7,"v":15.32},{"k":"Fg","h":9.8,"v":15.32},{"k":"Fg","h":10.8,"v":14.4},{"k":"Fg","h":11.9,"v":5.87},{"k":"Fg","h":12.9,"v":5.87},{"k":"Fg","h":13.75,"v":15.32},{"k":"Fg","h":17.9,"v":15.32},{"k":"Fg","h":18.6,"v":5.87},{"k":"Fg","h":22.1,"v":5.87},{"k":"Fg","h":22.8,"v":15.32},{"k":"Fg","h":23.5,"v":15.32},{"k":"Fg","h":24.4,"v":5.87},{"k":"Fg","h":25.9,"v":15.06},{"k":"Fg","h":27,"v":5.87},{"k":"Fg","h":30.1,"v":5.87},{"k":"Fg","h":32,"v":15.06},{"k":"Fg","h":33.75,"v":15.06},{"k":"Fg","h":35.3,"v":5.87},{"k":"Fg","h":37.4,"v":5.87},{"k":"Fg","h":37.9,"v":15.06},{"k":"Fg","h":42.1,"v":15.06},{"k":"Fg","h":43.1,"v":5.93},{"k":"Fg","h":46,"v":5.93},{"k":"Fg","h":47.3,"v":15.5},{"k":"Fg","h":48.3,"v":15.96},{"k":"Fg","h":50.4,"v":15.96},{"k":"Fg","h":51.5,"v":5.93},{"k":"Fg","h":54,"v":5.93},{"k":"Fg","h":55.1,"v":15.96},{"k":"Fg","h":58.2,"v":15.96},{"k":"Fg","h":59.3,"v":5.93},{"k":"Fg","h":60,"v":5.93},{"k":"Fg","h":60.8,"v":15.96},{"k":"Fg","h":65.5,"v":15.96},{"k":"Fg","h":66.6,"v":5.93},{"k":"Fg","h":71,"v":5.93},{"k":"Fg","h":71.8,"v":15.96},{"k":"Fg","h":72.2,"v":15.96},{"k":"Fg","h":73.1,"v":6.09},{"k":"Fg","h":73.9,"v":14.58},{"k":"Fg","h":74.4,"v":14.58},{"k":"Fg","h":75.2,"v":6.09},{"k":"Fg","h":79.1,"v":6.09},{"k":"Fg","h":79.8,"v":14.52},{"k":"Fg","h":82.2,"v":14.52},{"k":"Fg","h":82.9,"v":12},{"k":"Fg","h":84,"v":6.19},{"k":"Fg","h":85,"v":6.19},{"k":"Fg","h":86,"v":14.52},{"k":"Fg","h":90,"v":14.52},{"k":"Fg","h":91,"v":6.19},{"k":"Fg","h":95.2,"v":6.19},{"k":"Fg","h":96,"v":14.52},{"k":"Fg","h":97,"v":5.87},{"k":"Fg","h":97.8,"v":13.33},{"k":"Fg","h":98.8,"v":5.87},{"k":"Fg","h":103.5,"v":5.87},{"k":"Fg","h":104.4,"v":13.33},{"k":"Fg","h":107.2,"v":13.33},{"k":"Fg","h":107.9,"v":5.87},{"k":"Fg","h":109.8,"v":5.87},{"k":"Fg","h":110.3,"v":13.33},{"k":"Fg","h":113.7,"v":13.33},{"k":"Fg","h":115,"v":5.87},{"k":"Fg","h":118.9,"v":5.87},{"k":"Fg","h":120.7,"v":13.78},{"k":"Fg","h":121.3,"v":5.7},{"k":"Fg","h":122,"v":13.78},{"k":"Fg","h":122.8,"v":5.7},{"k":"Fg","h":127,"v":5.7},{"k":"Fg","h":128,"v":13.78},{"k":"Fg","h":131.1,"v":13.78},{"k":"Fg","h":132.2,"v":5.7},{"k":"Fg","h":133.7,"v":5.7},{"k":"Fg","h":134.6,"v":13.78},{"k":"Fg","h":137.9,"v":13.78},{"k":"Fg","h":138.9,"v":5.7},{"k":"Fg","h":142.9,"v":5.7},{"k":"Fg","h":143.6,"v":13.5},{"k":"Fg","h":144.7,"v":15.16},{"k":"Fg","h":146.3,"v":15.16},{"k":"Fg","h":147.3,"v":5.55},{"k":"Fg","h":150.4,"v":5.55},{"k":"Fg","h":151.4,"v":15.16},{"k":"Fg","h":154.6,"v":15.16},{"k":"Fg","h":155.6,"v":5.55},{"k":"Fg","h":156.8,"v":5.55},{"k":"Fg","h":157.5,"v":15.16},{"k":"Fg","h":161.9,"v":15.16},{"k":"Fg","h":162.9,"v":5.55},{"k":"Fg","h":168,"v":5.55},

      {"k":"Cb","h":0.6,"v":7.87},{"k":"Cb","h":2,"v":6.67},{"k":"Cb","h":3.5,"v":5.47},{"k":"Cb","h":5.1,"v":4.99},{"k":"Cb","h":6.7,"v":5.71},{"k":"Cb","h":8.2,"v":8.35},{"k":"Cb","h":9.8,"v":10.27},{"k":"Cb","h":11.9,"v":11.71},{"k":"Cb","h":14,"v":12.19},{"k":"Cb","h":16,"v":11.95},{"k":"Cb","h":18.1,"v":12.07},{"k":"Cb","h":20.2,"v":12.55},{"k":"Cb","h":22.3,"v":12.19},{"k":"Cb","h":23.9,"v":10.99},{"k":"Cb","h":25.4,"v":8.35},{"k":"Cb","h":27,"v":6.19},{"k":"Cb","h":28.5,"v":5.35},{"k":"Cb","h":30.1,"v":5.23},{"k":"Cb","h":31.7,"v":6.43},{"k":"Cb","h":33.75,"v":9.07},{"k":"Cb","h":35.8,"v":10.75},{"k":"Cb","h":37.9,"v":11.71},{"k":"Cb","h":40,"v":11.71},{"k":"Cb","h":42.1,"v":11.35},{"k":"Cb","h":44.2,"v":11.95},{"k":"Cb","h":46.25,"v":12.31},{"k":"Cb","h":47.8,"v":11.95},{"k":"Cb","h":49.4,"v":10.75},{"k":"Cb","h":50.9,"v":8.35},{"k":"Cb","h":53,"v":6.19},{"k":"Cb","h":54.6,"v":5.47},{"k":"Cb","h":56.1,"v":5.59},{"k":"Cb","h":58.2,"v":7.39},{"k":"Cb","h":59.8,"v":9.79},{"k":"Cb","h":61.9,"v":10.99},{"k":"Cb","h":64,"v":10.63},{"k":"Cb","h":65.5,"v":10.27},{"k":"Cb","h":67.6,"v":11.47},{"k":"Cb","h":69.7,"v":12.19},{"k":"Cb","h":71.25,"v":10.99},{"k":"Cb","h":72.8,"v":8.59},{"k":"Cb","h":74.4,"v":6.43},{"k":"Cb","h":75.9,"v":5.59},{"k":"Cb","h":78,"v":5.47},{"k":"Cb","h":79.6,"v":6.67},{"k":"Cb","h":81.7,"v":8.83},{"k":"Cb","h":83.75,"v":10.75},{"k":"Cb","h":84.8,"v":11.23},{"k":"Cb","h":86.9,"v":11.23},{"k":"Cb","h":88.9,"v":11.47},{"k":"Cb","h":90.5,"v":11.95},{"k":"Cb","h":92.1,"v":12.19},{"k":"Cb","h":93.6,"v":11.71},{"k":"Cb","h":95.2,"v":10.27},{"k":"Cb","h":96.7,"v":8.11},{"k":"Cb","h":98.3,"v":6.43},{"k":"Cb","h":100.4,"v":5.35},{"k":"Cb","h":102.5,"v":5.23},{"k":"Cb","h":104.6,"v":5.95},{"k":"Cb","h":106.6,"v":7.63},{"k":"Cb","h":108.7,"v":9.55},{"k":"Cb","h":110.8,"v":10.51},{"k":"Cb","h":112.9,"v":10.87},{"k":"Cb","h":115,"v":10.75},{"k":"Cb","h":117.1,"v":10.27},{"k":"Cb","h":119.1,"v":8.83},{"k":"Cb","h":121.2,"v":7.15},{"k":"Cb","h":123.3,"v":5.95},{"k":"Cb","h":125.4,"v":5.11},{"k":"Cb","h":127.5,"v":4.99},{"k":"Cb","h":129.6,"v":5.71},{"k":"Cb","h":131.6,"v":7.39},{"k":"Cb","h":133.7,"v":9.07},{"k":"Cb","h":135.8,"v":10.15},{"k":"Cb","h":137.9,"v":10.39},{"k":"Cb","h":140,"v":9.55},{"k":"Cb","h":142.1,"v":8.35},{"k":"Cb","h":144.1,"v":7.15},{"k":"Cb","h":146.2,"v":5.95},{"k":"Cb","h":149.4,"v":5.47},{"k":"Cb","h":151.4,"v":5.35},{"k":"Cb","h":153.5,"v":6.19},{"k":"Cb","h":155.6,"v":7.63},{"k":"Cb","h":157.7,"v":9.19},{"k":"Cb","h":160.8,"v":10.75},{"k":"Cb","h":162.9,"v":10.99},{"k":"Cb","h":165,"v":10.39},{"k":"Cb","h":168,"v":10},
      {"k":"Co","h":0,"v":12.62},{"k":"Co","h":6.3,"v":12.62},{"k":"Co","h":7.2,"v":5.23},{"k":"Co","h":7.6,"v":12.62},{"k":"Co","h":8.5,"v":12.62},{"k":"Co","h":9.5,"v":4.94},{"k":"Co","h":10.3,"v":4.94},{"k":"Co","h":10.8,"v":8.83},{"k":"Co","h":11.3,"v":4.94},{"k":"Co","h":13.2,"v":4.94},{"k":"Co","h":14.2,"v":12.62},{"k":"Co","h":15.3,"v":12.62},{"k":"Co","h":16.2,"v":4.94},{"k":"Co","h":19.2,"v":4.94},{"k":"Co","h":20,"v":12.62},{"k":"Co","h":23,"v":12.62},{"k":"Co","h":24,"v":12.31},{"k":"Co","h":29.3,"v":12.31},{"k":"Co","h":30.3,"v":5.28},{"k":"Co","h":32.4,"v":5.28},{"k":"Co","h":33.4,"v":12.31},{"k":"Co","h":34.2,"v":5.28},{"k":"Co","h":37,"v":5.28},{"k":"Co","h":37.8,"v":12.31},{"k":"Co","h":39.2,"v":12.31},{"k":"Co","h":40,"v":5.28},{"k":"Co","h":41.6,"v":5.28},{"k":"Co","h":42.3,"v":12.31},{"k":"Co","h":45.5,"v":12.31},{"k":"Co","h":46.5,"v":5.28},{"k":"Co","h":47.2,"v":5.28},{"k":"Co","h":48,"v":11.83},{"k":"Co","h":54.8,"v":11.83},{"k":"Co","h":55.7,"v":5.35},{"k":"Co","h":57,"v":5.35},{"k":"Co","h":57.8,"v":11.83},{"k":"Co","h":58.5,"v":5.35},{"k":"Co","h":61.5,"v":5.35},{"k":"Co","h":62.3,"v":11.83},{"k":"Co","h":63,"v":11.83},{"k":"Co","h":63.8,"v":5.35},{"k":"Co","h":65.5,"v":5.35},{"k":"Co","h":66.3,"v":11.83},{"k":"Co","h":71.2,"v":11.83},{"k":"Co","h":72.3,"v":12.24},{"k":"Co","h":80.5,"v":12.24},{"k":"Co","h":81.3,"v":5.28},{"k":"Co","h":84.6,"v":5.28},{"k":"Co","h":85.6,"v":12.24},{"k":"Co","h":86.6,"v":12.24},{"k":"Co","h":87.5,"v":5.28},{"k":"Co","h":89.5,"v":5.28},{"k":"Co","h":90.4,"v":12.24},{"k":"Co","h":95.2,"v":12.24},{"k":"Co","h":96,"v":8.47},{"k":"Co","h":96.8,"v":11.35},{"k":"Co","h":101.7,"v":11.35},{"k":"Co","h":102.6,"v":5.23},{"k":"Co","h":109.6,"v":5.23},{"k":"Co","h":110.4,"v":11.35},{"k":"Co","h":111.4,"v":11.35},{"k":"Co","h":112.3,"v":5.23},{"k":"Co","h":113.6,"v":5.23},{"k":"Co","h":114.3,"v":11.35},{"k":"Co","h":120,"v":11.23},{"k":"Co","h":121,"v":5.11},{"k":"Co","h":127.5,"v":5.11},{"k":"Co","h":128.2,"v":11.23},{"k":"Co","h":128.8,"v":5.11},{"k":"Co","h":129.5,"v":5.11},{"k":"Co","h":130.3,"v":11.23},{"k":"Co","h":131,"v":5.11},{"k":"Co","h":143.6,"v":5.11},{"k":"Co","h":144.5,"v":11.35},{"k":"Co","h":156.5,"v":11.35},{"k":"Co","h":157.3,"v":5.11},{"k":"Co","h":168,"v":5.11},
      {"k":"Cg","h":0,"v":12.62},{"k":"Cg","h":6.1,"v":12.62},{"k":"Cg","h":7,"v":5.23},{"k":"Cg","h":7.7,"v":12.62},{"k":"Cg","h":8.7,"v":12.62},{"k":"Cg","h":9.8,"v":4.94},{"k":"Cg","h":13,"v":4.94},{"k":"Cg","h":14,"v":12.62},{"k":"Cg","h":15,"v":12.62},{"k":"Cg","h":15.8,"v":4.94},{"k":"Cg","h":19,"v":4.94},{"k":"Cg","h":19.8,"v":12.62},{"k":"Cg","h":21.8,"v":12.62},{"k":"Cg","h":22.8,"v":8.71},{"k":"Cg","h":23.9,"v":12.55},{"k":"Cg","h":24.9,"v":12.31},{"k":"Cg","h":29.6,"v":12.31},{"k":"Cg","h":30.6,"v":5.28},{"k":"Cg","h":31.7,"v":12.31},{"k":"Cg","h":32.7,"v":5.28},{"k":"Cg","h":37.4,"v":5.28},{"k":"Cg","h":37.9,"v":12.31},{"k":"Cg","h":38.9,"v":12.31},{"k":"Cg","h":39.8,"v":5.28},{"k":"Cg","h":41.5,"v":5.28},{"k":"Cg","h":42.6,"v":12.31},{"k":"Cg","h":43.5,"v":12.31},{"k":"Cg","h":44.5,"v":5.28},{"k":"Cg","h":46,"v":5.28},{"k":"Cg","h":46.5,"v":12.31},{"k":"Cg","h":46.8,"v":12.31},{"k":"Cg","h":47.1,"v":6.07},{"k":"Cg","h":48,"v":12.31},{"k":"Cg","h":48.8,"v":11.83},{"k":"Cg","h":55.1,"v":11.83},{"k":"Cg","h":55.9,"v":5.35},{"k":"Cg","h":56.9,"v":5.35},{"k":"Cg","h":57.7,"v":11.83},{"k":"Cg","h":58.75,"v":5.35},{"k":"Cg","h":61.3,"v":5.35},{"k":"Cg","h":62.1,"v":11.83},{"k":"Cg","h":62.9,"v":11.83},{"k":"Cg","h":64,"v":5.35},{"k":"Cg","h":67.6,"v":5.35},{"k":"Cg","h":68.1,"v":11.83},{"k":"Cg","h":70.2,"v":11.83},{"k":"Cg","h":71,"v":8.59},{"k":"Cg","h":72.3,"v":11.83},{"k":"Cg","h":73.3,"v":12.24},{"k":"Cg","h":79.6,"v":12.24},{"k":"Cg","h":80.4,"v":5.28},{"k":"Cg","h":84.8,"v":5.28},{"k":"Cg","h":85.8,"v":12.24},{"k":"Cg","h":87,"v":12.24},{"k":"Cg","h":88.1,"v":5.28},{"k":"Cg","h":90.8,"v":5.28},{"k":"Cg","h":91.9,"v":12.24},{"k":"Cg","h":93.6,"v":12.24},{"k":"Cg","h":94.6,"v":11.7},{"k":"Cg","h":96.2,"v":12.24},{"k":"Cg","h":97.3,"v":11.35},{"k":"Cg","h":102,"v":11.35},{"k":"Cg","h":102.7,"v":5.23},{"k":"Cg","h":103.5,"v":5.23},{"k":"Cg","h":104.6,"v":11.35},{"k":"Cg","h":105.6,"v":5.23},{"k":"Cg","h":109.8,"v":5.23},{"k":"Cg","h":110.6,"v":11.35},{"k":"Cg","h":111.6,"v":11.35},{"k":"Cg","h":112.4,"v":5.23},{"k":"Cg","h":115,"v":5.23},{"k":"Cg","h":116,"v":11.35},{"k":"Cg","h":117.5,"v":11.35},{"k":"Cg","h":118.1,"v":11.23},{"k":"Cg","h":119.1,"v":7.39},{"k":"Cg","h":120.2,"v":11.23},{"k":"Cg","h":125.9,"v":11.23},{"k":"Cg","h":127,"v":5.11},{"k":"Cg","h":133.2,"v":5.11},{"k":"Cg","h":133.9,"v":11.23},{"k":"Cg","h":134.8,"v":11.23},{"k":"Cg","h":135.8,"v":5.11},{"k":"Cg","h":137.4,"v":11.23},{"k":"Cg","h":142,"v":11.23},{"k":"Cg","h":143.1,"v":7.39},{"k":"Cg","h":144.1,"v":11.23},{"k":"Cg","h":145.2,"v":11.35},{"k":"Cg","h":149.9,"v":11.35},{"k":"Cg","h":151.2,"v":5.11},{"k":"Cg","h":158.2,"v":5.11},{"k":"Cg","h":158.9,"v":11.35},{"k":"Cg","h":159.8,"v":5.11},{"k":"Cg","h":161,"v":5.11},{"k":"Cg","h":161.9,"v":11.35},{"k":"Cg","h":163.9,"v":11.35},{"k":"Cg","h":164.8,"v":5.11},{"k":"Cg","h":168,"v":5.11}
    ]
  },
  "concat": [
    {
      "title": "Barra en Uribe", "width": 538, "height": 130,
      "layer": [
        {"data": {"name": "B"}, "transform": [{"filter": "datum.p === 'U'"}],
         "mark": {"type": "area", "interpolate": "step-after", "color": "#e8edf2", "clip": true},
         "encoding": {
           "x": {"field": "h", "type": "quantitative", "scale": {"domain": [0, 168], "nice": false, "zero": false}, "axis": {"values": [0, 24, 48, 72, 96, 120, 144], "labels": false, "title": null}},
           "y": {"field": "lo", "type": "quantitative", "scale": {"domain": [606, 1709], "nice": false, "zero": false}, "axis": {"values": [1000, 1500], "format": "d", "title": "Retiro [kWh]"}},
           "y2": {"field": "hi"}}},
        {"data": {"name": "Y"}, "mark": {"type": "rect", "color": "#ffd700", "clip": true},
         "encoding": {"x": {"field": "a", "type": "quantitative"}, "x2": {"field": "b"}}},
        {"data": {"name": "L"}, "transform": [{"filter": "datum.k === 'Ub'"}],
         "mark": {"type": "line", "color": "#b0c4de", "opacity": 0.85, "strokeWidth": 2, "strokeJoin": "round", "clip": true},
         "encoding": {"x": {"field": "h", "type": "quantitative"}, "y": {"field": "v", "type": "quantitative"}}},
        {"data": {"name": "L"}, "transform": [{"filter": "datum.k === 'Uo'"}],
         "mark": {"type": "line", "color": "#ffa07a", "strokeWidth": 2, "strokeJoin": "round", "clip": true},
         "encoding": {"x": {"field": "h", "type": "quantitative"}, "y": {"field": "v", "type": "quantitative"}}},
        {"data": {"name": "L"}, "transform": [{"filter": "datum.k === 'Ug'"}],
         "mark": {"type": "line", "color": "#2e8b57", "strokeWidth": 2, "strokeJoin": "round", "clip": true},
         "encoding": {"x": {"field": "h", "type": "quantitative"}, "y": {"field": "v", "type": "quantitative"}}}
      ]
    },
    {
      "title": "Barra en Tocopilla", "width": 528, "height": 130,
      "layer": [
        {"data": {"name": "B"}, "transform": [{"filter": "datum.p === 'T'"}],
         "mark": {"type": "area", "interpolate": "step-after", "color": "#e8edf2", "clip": true},
         "encoding": {
           "x": {"field": "h", "type": "quantitative", "scale": {"domain": [0, 165], "nice": false, "zero": false}, "axis": {"values": [0, 24, 48, 72, 96, 120, 144], "labels": false, "title": null}},
           "y": {"field": "lo", "type": "quantitative", "scale": {"domain": [4.02, 12.01], "nice": false, "zero": false}, "axis": {"values": [5, 7.5, 10], "format": ".1f", "title": "Retiro [kWh]"}},
           "y2": {"field": "hi"}}},
        {"data": {"name": "Y"}, "mark": {"type": "rect", "color": "#ffd700", "clip": true},
         "encoding": {"x": {"field": "a", "type": "quantitative"}, "x2": {"field": "b"}}},
        {"data": {"name": "L"}, "transform": [{"filter": "datum.k === 'Tb'"}],
         "mark": {"type": "line", "color": "#b0c4de", "opacity": 0.85, "strokeWidth": 2, "strokeJoin": "round", "clip": true},
         "encoding": {"x": {"field": "h", "type": "quantitative"}, "y": {"field": "v", "type": "quantitative"}}},
        {"data": {"name": "L"}, "transform": [{"filter": "datum.k === 'To'"}],
         "mark": {"type": "line", "color": "#ffa07a", "strokeWidth": 2, "strokeJoin": "round", "clip": true},
         "encoding": {"x": {"field": "h", "type": "quantitative"}, "y": {"field": "v", "type": "quantitative"}}},
        {"data": {"name": "L"}, "transform": [{"filter": "datum.k === 'Tg'"}],
         "mark": {"type": "line", "color": "#2e8b57", "strokeWidth": 2, "strokeJoin": "round", "clip": true},
         "encoding": {"x": {"field": "h", "type": "quantitative"}, "y": {"field": "v", "type": "quantitative"}}}
      ]
    },
    {
      "title": "Barra en Quilicura", "width": 538, "height": 130,
      "layer": [
        {"data": {"name": "B"}, "transform": [{"filter": "datum.p === 'Q'"}],
         "mark": {"type": "area", "interpolate": "step-after", "color": "#e8edf2", "clip": true},
         "encoding": {
           "x": {"field": "h", "type": "quantitative", "scale": {"domain": [0, 168], "nice": false, "zero": false}, "axis": {"values": [0, 24, 48, 72, 96, 120, 144], "labels": false, "title": null}},
           "y": {"field": "lo", "type": "quantitative", "scale": {"domain": [622, 2740], "nice": false, "zero": false}, "axis": {"values": [1000, 2000], "format": "d", "title": "Retiro [kWh]"}},
           "y2": {"field": "hi"}}},
        {"data": {"name": "Y"}, "mark": {"type": "rect", "color": "#ffd700", "clip": true},
         "encoding": {"x": {"field": "a", "type": "quantitative"}, "x2": {"field": "b"}}},
        {"data": {"name": "L"}, "transform": [{"filter": "datum.k === 'Qb'"}],
         "mark": {"type": "line", "color": "#b0c4de", "opacity": 0.85, "strokeWidth": 2, "strokeJoin": "round", "clip": true},
         "encoding": {"x": {"field": "h", "type": "quantitative"}, "y": {"field": "v", "type": "quantitative"}}},
        {"data": {"name": "L"}, "transform": [{"filter": "datum.k === 'Qo'"}],
         "mark": {"type": "line", "color": "#ffa07a", "strokeWidth": 2, "strokeJoin": "round", "clip": true},
         "encoding": {"x": {"field": "h", "type": "quantitative"}, "y": {"field": "v", "type": "quantitative"}}},
        {"data": {"name": "L"}, "transform": [{"filter": "datum.k === 'Qg'"}],
         "mark": {"type": "line", "color": "#2e8b57", "strokeWidth": 2, "strokeJoin": "round", "clip": true},
         "encoding": {"x": {"field": "h", "type": "quantitative"}, "y": {"field": "v", "type": "quantitative"}}}
      ]
    },
    {
      "title": "Barra en La Florida", "width": 528, "height": 130,
      "layer": [
        {"data": {"name": "B"}, "transform": [{"filter": "datum.p === 'F'"}],
         "mark": {"type": "area", "interpolate": "step-after", "color": "#e8edf2", "clip": true},
         "encoding": {
           "x": {"field": "h", "type": "quantitative", "scale": {"domain": [0, 165], "nice": false, "zero": false}, "axis": {"values": [0, 24, 48, 72, 96, 120, 144], "labels": false, "title": null}},
           "y": {"field": "lo", "type": "quantitative", "scale": {"domain": [5.06, 17.63], "nice": false, "zero": false}, "axis": {"values": [10, 15], "format": "d", "title": "Retiro [kWh]"}},
           "y2": {"field": "hi"}}},
        {"data": {"name": "Y"}, "mark": {"type": "rect", "color": "#ffd700", "clip": true},
         "encoding": {"x": {"field": "a", "type": "quantitative"}, "x2": {"field": "b"}}},
        {"data": {"name": "L"}, "transform": [{"filter": "datum.k === 'Fb'"}],
         "mark": {"type": "line", "color": "#b0c4de", "opacity": 0.85, "strokeWidth": 2, "strokeJoin": "round", "clip": true},
         "encoding": {"x": {"field": "h", "type": "quantitative"}, "y": {"field": "v", "type": "quantitative"}}},
        {"data": {"name": "L"}, "transform": [{"filter": "datum.k === 'Fo'"}],
         "mark": {"type": "line", "color": "#ffa07a", "strokeWidth": 2, "strokeJoin": "round", "clip": true},
         "encoding": {"x": {"field": "h", "type": "quantitative"}, "y": {"field": "v", "type": "quantitative"}}},
        {"data": {"name": "L"}, "transform": [{"filter": "datum.k === 'Fg'"}],
         "mark": {"type": "line", "color": "#2e8b57", "strokeWidth": 2, "strokeJoin": "round", "clip": true},
         "encoding": {"x": {"field": "h", "type": "quantitative"}, "y": {"field": "v", "type": "quantitative"}}}
      ]
    },
    {
      "title": "Barra en Osorno", "width": 538, "height": 130,
      "layer": [
        {"data": {"name": "B"}, "transform": [{"filter": "datum.p === 'O'"}],
         "mark": {"type": "area", "interpolate": "step-after", "color": "#e8edf2", "clip": true},
         "encoding": {
           "x": {"field": "h", "type": "quantitative", "scale": {"domain": [0, 168], "nice": false, "zero": false},
                 "axis": {"values": [0, 24, 48, 72, 96, 120, 144], "labelExpr": "['00:00h', ['Lun.', 'Mar.', 'Mié.', 'Jue.', 'Vie.', 'Sáb.', 'Dom.'][round(datum.value / 24)]]", "labelLineHeight": 16, "labelBaseline": "top", "title": ["Hora", "Día de la semana"], "titleLineHeight": 15, "titlePadding": 8}},
           "y": {"field": "lo", "type": "quantitative", "scale": {"domain": [747, 1987], "nice": false, "zero": false}, "axis": {"values": [1000, 1500], "format": "d", "title": "Retiro [kWh]"}},
           "y2": {"field": "hi"}}},
        {"data": {"name": "Y"}, "mark": {"type": "rect", "color": "#ffd700", "clip": true},
         "encoding": {"x": {"field": "a", "type": "quantitative"}, "x2": {"field": "b"}}},
        {"data": {"name": "L"}, "transform": [{"filter": "datum.k === 'Ob'"}],
         "mark": {"type": "line", "color": "#b0c4de", "opacity": 0.85, "strokeWidth": 2, "strokeJoin": "round", "clip": true},
         "encoding": {"x": {"field": "h", "type": "quantitative"}, "y": {"field": "v", "type": "quantitative"}}},
        {"data": {"name": "L"}, "transform": [{"filter": "datum.k === 'Oo'"}],
         "mark": {"type": "line", "color": "#ffa07a", "strokeWidth": 2, "strokeJoin": "round", "clip": true},
         "encoding": {"x": {"field": "h", "type": "quantitative"}, "y": {"field": "v", "type": "quantitative"}}},
        {"data": {"name": "L"}, "transform": [{"filter": "datum.k === 'Og'"}],
         "mark": {"type": "line", "color": "#2e8b57", "strokeWidth": 2, "strokeJoin": "round", "clip": true},
         "encoding": {"x": {"field": "h", "type": "quantitative"}, "y": {"field": "v", "type": "quantitative"}}}
      ]
    },
    {
      "title": "Barra en Calbuco", "width": 528, "height": 130,
      "layer": [
        {"data": {"name": "B"}, "transform": [{"filter": "datum.p === 'C'"}],
         "mark": {"type": "area", "interpolate": "step-after", "color": "#e8edf2", "clip": true},
         "encoding": {
           "x": {"field": "h", "type": "quantitative", "scale": {"domain": [0, 165], "nice": false, "zero": false},
                 "axis": {"values": [0, 24, 48, 72, 96, 120, 144], "labelExpr": "['00:00h', ['Lun.', 'Mar.', 'Mié.', 'Jue.', 'Vie.', 'Sáb.', 'Dom.'][round(datum.value / 24)]]", "labelLineHeight": 16, "labelBaseline": "top", "title": ["Hora", "Día de la semana"], "titleLineHeight": 15, "titlePadding": 8}},
           "y": {"field": "lo", "type": "quantitative", "scale": {"domain": [4.51, 13.92], "nice": false, "zero": false}, "axis": {"values": [5, 7.5, 10, 12.5], "format": ".1f", "title": "Retiro [kWh]"}},
           "y2": {"field": "hi"}}},
        {"data": {"name": "Y"}, "mark": {"type": "rect", "color": "#ffd700", "clip": true},
         "encoding": {"x": {"field": "a", "type": "quantitative"}, "x2": {"field": "b"}}},
        {"data": {"name": "L"}, "transform": [{"filter": "datum.k === 'Cb'"}],
         "mark": {"type": "line", "color": "#b0c4de", "opacity": 0.85, "strokeWidth": 2, "strokeJoin": "round", "clip": true},
         "encoding": {"x": {"field": "h", "type": "quantitative"}, "y": {"field": "v", "type": "quantitative"}}},
        {"data": {"name": "L"}, "transform": [{"filter": "datum.k === 'Co'"}],
         "mark": {"type": "line", "color": "#ffa07a", "strokeWidth": 2, "strokeJoin": "round", "clip": true},
         "encoding": {"x": {"field": "h", "type": "quantitative"}, "y": {"field": "v", "type": "quantitative"}}},
        {"data": {"name": "L"}, "transform": [{"filter": "datum.k === 'Cg'"}],
         "mark": {"type": "line", "color": "#2e8b57", "strokeWidth": 2, "strokeJoin": "round", "clip": true},
         "encoding": {"x": {"field": "h", "type": "quantitative"}, "y": {"field": "v", "type": "quantitative"}}}
      ]
    }
  ]
}
